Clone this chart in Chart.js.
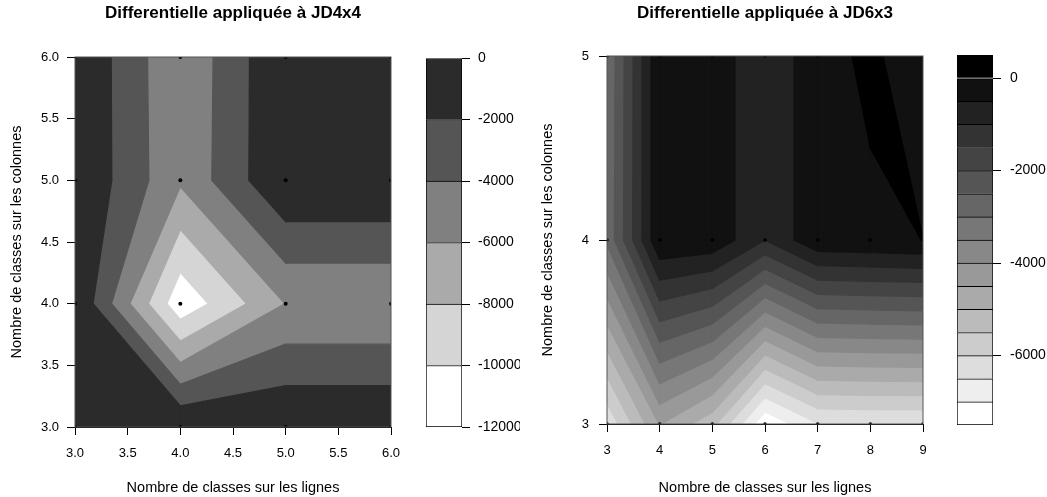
<!DOCTYPE html>
<html>
<head>
<meta charset="utf-8">
<script src="https://cdn.jsdelivr.net/npm/chart.js@4.4.0/dist/chart.umd.min.js"></script>
<style>
  html, body { margin: 0; padding: 0; background: #fff; }
  #wrap { position: relative; width: 1047px; height: 497px; overflow: hidden; }
  canvas { position: absolute; top: 0; }
</style>
</head>
<body>
<div id="wrap">
  <canvas id="leftPlot" width="466" height="497" style="left:0"></canvas>
  <canvas id="leftBar" width="110" height="497" style="left:410px"></canvas>
  <canvas id="rightPlot" width="470" height="497" style="left:530px"></canvas>
  <canvas id="rightBar" width="107" height="497" style="left:940px"></canvas>
</div>
<script>
// --- left panel : JD4x4 ---
const leftX = [3, 4, 5, 6];
const leftY = [3, 4, 5, 6];
// one row per y value (bottom to top), one column per x value
const leftZ = [
  [-10, -50, -10, -10],
  [-50, -11450, -5950, -5950],
  [-10, -5700, -10, -10],
  [-10, -5800, -10, -10]
];
const leftLevels = [-12000, -10000, -8000, -6000, -4000, -2000, 0];
const leftXTicks = [3, 3.5, 4, 4.5, 5, 5.5, 6];
const leftYTicks = [3, 3.5, 4, 4.5, 5, 5.5, 6];
const leftBarTicks = [-12000, -10000, -8000, -6000, -4000, -2000, 0];

// --- right panel : JD6x3 ---
const rightX = [3, 4, 5, 6, 7, 8, 9];
const rightY = [3, 4, 5];
const rightZ = [
  [-6400, -4474, -5330, -7420, -6530, -6500, -6500],
  [-2900, -30, -130, -990, -100, -54, 2],
  [-2950, -20, -130, -990, -100, 54, -170]
];
const rightLevels = [-7500, -7000, -6500, -6000, -5500, -5000, -4500, -4000, -3500,
  -3000, -2500, -2000, -1500, -1000, -500, 0, 500];
const rightXTicks = [3, 4, 5, 6, 7, 8, 9];
const rightYTicks = [3, 4, 5];
const rightBarTicks = [-6000, -4000, -2000, 0];

const xTitle = 'Nombre de classes sur les lignes';
const yTitle = 'Nombre de classes sur les colonnes';

// grey ramps, lowest band = white
const leftColors = ['#ffffff', '#d5d5d5', '#aaaaaa', '#808080', '#555555', '#2b2b2b'];
const rightColors = rightLevels.slice(0, -1).map((_, k) => {
  const g = 255 - 17 * k;
  return 'rgb(' + g + ',' + g + ',' + g + ')';
});

Chart.defaults.font.family = '"Liberation Sans", Arial, sans-serif';
Chart.defaults.color = '#000';

// polygon of one cell inside one band [lo, hi] (walk the 4 edges, like filled.contour)
function cellBand(cx, cy, cz, lo, hi) {
  const pts = [];
  for (let i = 0; i < 4; i++) {
    const j = (i + 1) % 4;
    const za = cz[i], zb = cz[j];
    if (za >= lo && za <= hi) pts.push([cx[i], cy[i]]);
    const ts = [];
    [lo, hi].forEach(L => {
      if ((za < L && zb > L) || (za > L && zb < L)) ts.push((L - za) / (zb - za));
    });
    ts.sort((a, b) => a - b);
    ts.forEach(t => pts.push([cx[i] + t * (cx[j] - cx[i]), cy[i] + t * (cy[j] - cy[i])]));
  }
  return pts;
}

function contourPlugin(xs, ys, zs, levels, colors) {
  return {
    id: 'contour',
    beforeDatasetsDraw(chart) {
      const { ctx, chartArea: a, scales: { x, y } } = chart;
      ctx.save();
      ctx.beginPath();
      ctx.rect(a.left, a.top, a.right - a.left, a.bottom - a.top);
      ctx.clip();
      ctx.lineWidth = 1.2;
      ctx.lineJoin = 'round';
      for (let b = 0; b < colors.length; b++) {
        ctx.fillStyle = colors[b];
        ctx.strokeStyle = colors[b];
        for (let j = 0; j < ys.length - 1; j++) {
          for (let i = 0; i < xs.length - 1; i++) {
            const cx = [xs[i], xs[i + 1], xs[i + 1], xs[i]];
            const cy = [ys[j], ys[j], ys[j + 1], ys[j + 1]];
            const cz = [zs[j][i], zs[j][i + 1], zs[j + 1][i + 1], zs[j + 1][i]];
            const pts = cellBand(cx, cy, cz, levels[b], levels[b + 1]);
            if (pts.length < 3) continue;
            ctx.beginPath();
            pts.forEach((p, k) => {
              const px = x.getPixelForValue(p[0]), py = y.getPixelForValue(p[1]);
              if (k === 0) ctx.moveTo(px, py); else ctx.lineTo(px, py);
            });
            ctx.closePath();
            ctx.fill();
            ctx.stroke();
          }
        }
      }
      ctx.restore();
    },
    afterDraw(chart) {
      const { ctx, chartArea: a } = chart;
      ctx.save();
      ctx.strokeStyle = '#555';
      ctx.lineWidth = 1;
      ctx.strokeRect(a.left, a.top, a.right - a.left, a.bottom - a.top);
      ctx.restore();
    }
  };
}

function contourChart(id, p) {
  const pts = [];
  p.ys.forEach(yv => p.xs.forEach(xv => pts.push({ x: xv, y: yv })));
  new Chart(document.getElementById(id), {
    type: 'scatter',
    data: {
      datasets: [{
        data: pts,
        pointRadius: p.dot,
        pointBackgroundColor: '#000',
        pointBorderWidth: 0
      }]
    },
    options: {
      responsive: false,
      animation: false,
      events: [],
      layout: { padding: { left: 0, right: p.padRight, top: 0, bottom: 0 } },
      plugins: {
        legend: { display: false },
        tooltip: { enabled: false },
        title: {
          display: true,
          text: p.title,
          fullSize: false,
          color: '#000',
          font: { size: 17, weight: 'bold' },
          padding: { top: 3.5, bottom: p.titleBottom }
        }
      },
      scales: {
        x: {
          type: 'linear',
          min: p.xs[0],
          max: p.xs[p.xs.length - 1],
          z: 1,
          afterBuildTicks: s => { s.ticks = p.xTicks.map(v => ({ value: v })); },
          afterFit: s => { s.height = p.xHeight; },
          grid: { drawOnChartArea: false, color: '#000', tickLength: 8 },
          border: { color: '#000' },
          ticks: { padding: 11, autoSkip: false, maxRotation: 0, font: { size: 13 }, callback: p.fmt },
          title: { display: true, text: xTitle, font: { size: 14.5 }, padding: { top: 0, bottom: 0 } }
        },
        y: {
          type: 'linear',
          min: p.ys[0],
          max: p.ys[p.ys.length - 1],
          z: 1,
          afterBuildTicks: s => { s.ticks = p.yTicks.map(v => ({ value: v })); },
          afterFit: s => { s.width = p.yWidth; },
          grid: { drawOnChartArea: false, color: '#000', tickLength: 8 },
          border: { color: '#000' },
          ticks: { padding: p.yPad, autoSkip: false, font: { size: 13 }, callback: p.fmt },
          title: { display: true, text: yTitle, font: { size: 14.5 }, padding: { top: p.yTitlePad, bottom: 0 } }
        }
      }
    },
    plugins: [contourPlugin(p.xs, p.ys, p.zs, p.levels, p.colors)]
  });
}

function colorBar(id, levels, colors, ticks, p) {
  new Chart(document.getElementById(id), {
    type: 'bar',
    data: {
      labels: [''],
      datasets: colors.map((c, k) => ({
        data: [[levels[k], levels[k + 1]]],
        backgroundColor: c,
        borderColor: '#000',
        borderWidth: { top: 1, left: 1, right: 1, bottom: k === 0 ? 1 : 0 },
        borderSkipped: false,
        grouped: false,
        categoryPercentage: 1,
        barPercentage: 1
      }))
    },
    options: {
      responsive: false,
      animation: false,
      events: [],
      layout: { padding: { left: p.padLeft, right: 0, top: p.padTop, bottom: p.padBottom } },
      plugins: { legend: { display: false }, tooltip: { enabled: false } },
      scales: {
        x: { display: false },
        y: {
          position: 'right',
          min: levels[0],
          max: levels[levels.length - 1],
          afterBuildTicks: s => { s.ticks = ticks.map(v => ({ value: v })); },
          afterFit: s => { s.width = p.yWidth; },
          grid: { drawOnChartArea: false, color: '#000', tickLength: 8 },
          border: { display: false },
          ticks: { padding: p.tickPad, autoSkip: false, font: { size: 14 }, callback: v => String(v) }
        }
      }
    }
  });
}

contourChart('leftPlot', {
  xs: leftX, ys: leftY, zs: leftZ, levels: leftLevels, colors: leftColors,
  xTicks: leftXTicks, yTicks: leftYTicks, fmt: v => v.toFixed(1),
  title: 'Differentielle appliquée à JD4x4',
  padRight: 75, yWidth: 75, xHeight: 70, titleBottom: 33.1,
  yPad: 8, yTitlePad: 8.3, dot: 2
});

colorBar('leftBar', leftLevels, leftColors, leftBarTicks,
  { padLeft: 16, padTop: 58, padBottom: 70, yWidth: 58, tickPad: 8 });

contourChart('rightPlot', {
  xs: rightX, ys: rightY, zs: rightZ, levels: rightLevels, colors: rightColors,
  xTicks: rightXTicks, yTicks: rightYTicks, fmt: v => String(v),
  title: 'Differentielle appliquée à JD6x3',
  padRight: 77, yWidth: 77, xHeight: 73, titleBottom: 32.1,
  yPad: 10, yTitlePad: 9.3, dot: 1.8
});

colorBar('rightBar', rightLevels, rightColors, rightBarTicks,
  { padLeft: 17, padTop: 55, padBottom: 72, yWidth: 54, tickPad: 9 });
</script>
</body>
</html>
